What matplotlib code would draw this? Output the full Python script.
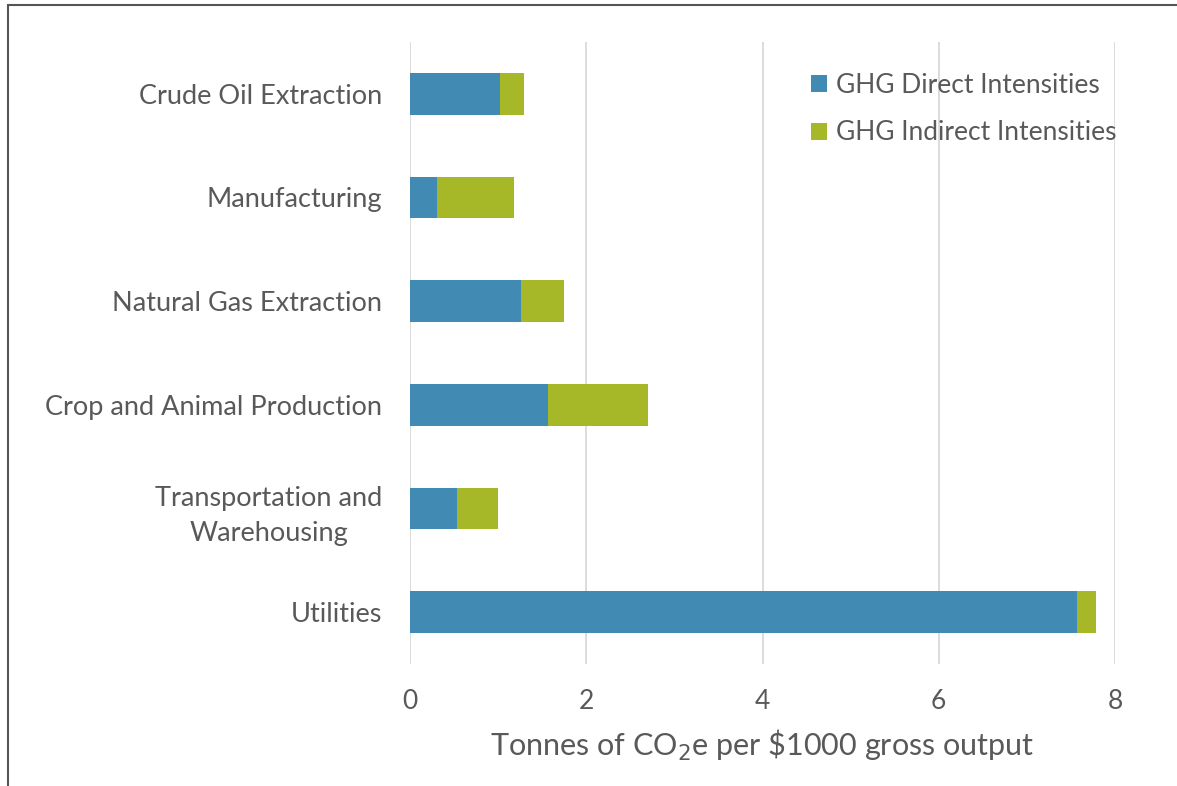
import matplotlib
matplotlib.use("Agg")
import matplotlib.pyplot as plt
from matplotlib.patches import Rectangle
import numpy as np

categories = ["Crude Oil Extraction", "Manufacturing", "Natural Gas Extraction",
              "Crop and Animal Production", "Transportation and\nWarehousing", "Utilities"]
direct = [1.02, 0.31, 1.26, 1.57, 0.53, 7.57]
indirect = [0.27, 0.87, 0.49, 1.13, 0.47, 0.22]
series_names = ["GHG Direct Intensities", "GHG Indirect Intensities"]
xticks = [0, 2, 4, 6, 8]

plt.rcParams['font.family'] = ['Lato', 'DejaVu Sans']
TXT = '#595959'
BLUE = '#418AB3'
GREEN = '#A6B727'

W, H = 1177, 786
fig = plt.figure(figsize=(W/100, H/100), dpi=100)
ax = fig.add_axes([410/W, 1-664/H, 705/W, 622/H])

y = np.arange(len(categories))
ax.barh(y, direct, height=0.4, color=BLUE, label=series_names[0], zorder=3)
ax.barh(y, indirect, left=direct, height=0.4, color=GREEN, label=series_names[1], zorder=3)

ax.set_ylim(len(categories)-0.5, -0.5)
ax.set_xlim(0, 8)
ax.set_xticks(xticks)
ax.set_yticks(y)
ax.set_yticklabels(categories, fontsize=19.5, color=TXT, linespacing=1.5)
for lab in ax.get_yticklabels():
    lab.set_multialignment('center')
ax.tick_params(axis='y', length=0, pad=20)
ax.tick_params(axis='x', length=0, pad=18, labelsize=19, labelcolor=TXT)
ax.xaxis.grid(True, color='#d9d9d9', linewidth=1.3, zorder=0)
for s in ax.spines.values():
    s.set_visible(False)
ax.set_xlabel("Tonnes of CO$_2$e per \\$1000 gross output", fontsize=22, color=TXT, labelpad=10)

leg = ax.legend(loc='upper left', bbox_to_anchor=(811/W, 1-73/H), bbox_transform=fig.transFigure,
                frameon=False, fontsize=19, handlelength=0.6, handleheight=0.6,
                handletextpad=0.35, labelspacing=0.85, labelcolor=TXT, borderpad=0,
                borderaxespad=0)

fig.patches.append(Rectangle((8/W, -0.1), 1.2, 1-5/H+0.1, transform=fig.transFigure,
                             fill=False, edgecolor='#555555', linewidth=1.5))

fig.savefig("out.png", dpi=100)
